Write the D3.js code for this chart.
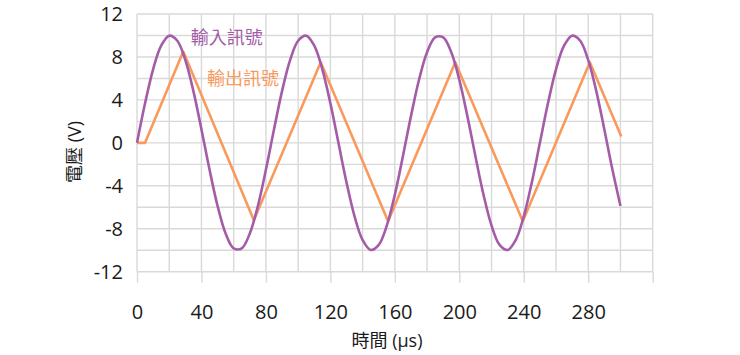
<!DOCTYPE html>
<html><head><meta charset="utf-8">
<script src="https://cdn.jsdelivr.net/npm/d3@7"></script>
<style>
html,body{margin:0;padding:0;background:#fff;}
svg{display:block;font-family:"Open Sans","Noto Sans CJK TC",sans-serif;}
</style></head>
<body>
<svg id="chart" width="740" height="355"></svg>
<script>
// Input signal (V) sampled every 5 µs, 0..300 µs
const inputTimes = d3.range(0, 301, 5);
const inputValues = [
  0, 3.68, 6.85, 9.05, 9.98, 9.51, 7.71, 4.82, 1.25, -2.49,
  -5.88, -8.44, -9.82, -9.82, -8.44, -5.88, -2.49, 1.25, 4.82, 7.71,
  9.51, 9.98, 9.05, 6.85, 3.68, 0, -3.68, -6.85, -9.05, -9.98,
  -9.51, -7.71, -4.82, -1.25, 2.49, 5.88, 8.44, 9.82, 9.82, 8.44,
  5.88, 2.49, -1.25, -4.82, -7.71, -9.51, -9.98, -9.05, -6.85, -3.68,
  0, 3.68, 6.85, 9.05, 9.98, 9.51, 7.71, 4.82, 1.25, -2.49, -5.88
];
// Output signal (V) vertices
const outputTimes = [0, 5, 28.7, 72.5, 114, 155.8, 197.5, 239.4, 281, 300.5];
const outputValues = [0, 0, 8.5, -7.2, 7.5, -7.3, 7.5, -7.3, 7.5, 0.6];

const xTickValues = [0, 40, 80, 120, 160, 200, 240, 280, 320];
const xTickLabels = ["0", "40", "80", "120", "160", "200", "240", "280", ""];
const yTickValues = [12, 8, 4, 0, -4, -8, -12];
const yTickLabels = ["12", "8", "4", "0", "-4", "-8", "-12"];
const seriesNames = ["輸入訊號", "輸出訊號"];
const xTitle = "時間 (µs)";
const yTitle = "電壓 (V)";

const svg = d3.select("#chart");
const x = d3.scaleLinear().domain([0, 320]).range([137, 652.7]);
const y = d3.scaleLinear().domain([-12, 12]).range([271.7, 14]);
const gridColor = "#d9d9d9";

// grid
const g = svg.append("g");
g.selectAll(".vg").data(d3.range(0, 321, 20)).join("line")
  .attr("x1", d => x(d)).attr("x2", d => x(d))
  .attr("y1", y(12)).attr("y2", y(-12))
  .attr("stroke", gridColor).attr("stroke-width", 1.4);
g.selectAll(".hg").data(d3.range(-12, 13, 2)).join("line")
  .attr("x1", x(0)).attr("x2", x(320))
  .attr("y1", d => y(d)).attr("y2", d => y(d))
  .attr("stroke", gridColor).attr("stroke-width", 1.4);

// x axis
const xAxis = d3.axisBottom(x).tickValues(xTickValues)
  .tickFormat((d, i) => xTickLabels[i]).tickSize(11).tickPadding(22);
const xa = svg.append("g").attr("transform", `translate(0,${y(-12)})`).call(xAxis);
xa.select(".domain").remove();
xa.selectAll(".tick line").attr("stroke", gridColor).attr("stroke-width", 1.4);
xa.selectAll(".tick text").attr("font-size", 20).attr("fill", "#1a1a1a")
  .attr("font-family", "'Open Sans',sans-serif");

// y axis
const yAxis = d3.axisLeft(y).tickValues(yTickValues)
  .tickFormat((d, i) => yTickLabels[i]).tickSize(0).tickPadding(14);
const ya = svg.append("g").attr("transform", `translate(${x(0)},0)`).call(yAxis);
ya.select(".domain").remove();
ya.selectAll(".tick text").attr("font-size", 20).attr("fill", "#1a1a1a")
  .attr("font-family", "'Open Sans',sans-serif");

// lines
const inputData = inputTimes.map((t, i) => [t, inputValues[i]]);
const outputData = outputTimes.map((t, i) => [t, outputValues[i]]);
const colors = ["#a45ca8", "#f99a5c"];

svg.append("path").datum(outputData)
  .attr("fill", "none").attr("stroke", colors[1]).attr("stroke-width", 2.6)
  .attr("stroke-linejoin", "round")
  .attr("d", d3.line().x(d => x(d[0])).y(d => y(d[1])));
svg.append("path").datum(inputData)
  .attr("fill", "none").attr("stroke", colors[0]).attr("stroke-width", 2.6)
  .attr("d", d3.line().curve(d3.curveCatmullRom.alpha(0.5)).x(d => x(d[0])).y(d => y(d[1])));

// series labels
svg.append("text").attr("x", x(33.4)).attr("y", y(9.8)).attr("dy", "0.35em")
  .attr("font-size", 18).attr("fill", colors[0])
  .attr("font-family", "'Noto Sans CJK TC',sans-serif").text(seriesNames[0]);
svg.append("text").attr("x", x(43.5)).attr("y", y(5.96)).attr("dy", "0.35em")
  .attr("font-size", 18).attr("fill", colors[1])
  .attr("font-family", "'Noto Sans CJK TC',sans-serif").text(seriesNames[1]);

// axis titles
svg.append("text").attr("x", 387).attr("y", 347).attr("text-anchor", "middle")
  .attr("font-size", 18).attr("fill", "#1a1a1a").text(xTitle);
svg.append("text").attr("transform", "translate(81,152) rotate(-90)")
  .attr("text-anchor", "middle").attr("font-size", 18).attr("fill", "#1a1a1a").text(yTitle);
</script>
</body></html>
